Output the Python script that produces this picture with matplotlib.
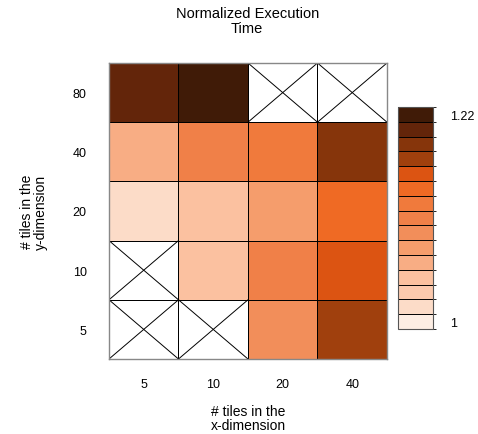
import numpy as np
import matplotlib
matplotlib.use("Agg")
import matplotlib.pyplot as plt
from matplotlib.colors import ListedColormap, BoundaryNorm

plt.rcParams['font.family'] = ['Liberation Sans', 'DejaVu Sans']

x_tiles = ['5', '10', '20', '40']
y_tiles = ['5', '10', '20', '40', '80']

# normalized execution time, rows = y tiles (5..80), cols = x tiles (5..40); nan = no data
times = np.array([
    [np.nan, np.nan, 1.095, 1.173],
    [np.nan, 1.047, 1.110, 1.157],
    [1.016,  1.047, 1.079, 1.142],
    [1.063,  1.110, 1.126, 1.189],
    [1.204,  1.220, np.nan, np.nan],
])

# discrete palette, low -> high
palette = ['#fdeee4', '#fcdcc8', '#fbc9ad', '#fbc1a0', '#f8ad84',
           '#f59d6c', '#f28e5a', '#f08048', '#f07a3c', '#ef6a24',
           '#dc5412', '#a0400d', '#86350b', '#63250a', '#401b07']
vmin, vmax = 1.0, 1.22

n = len(palette)
step = (vmax - vmin) / (n - 1)
bounds = vmin - step / 2 + step * np.arange(n + 1)
cmap = ListedColormap(palette)
cmap.set_bad('white')
norm = BoundaryNorm(bounds, n)

fig = plt.figure(figsize=(4.78, 4.35), dpi=100)
ax = fig.add_axes([0.228, 0.1724, 0.5816, 0.6805])
cax = fig.add_axes([0.8326, 0.2414, 0.0732, 0.5103])

data = np.ma.masked_invalid(times)
mesh = ax.pcolormesh(data, cmap=cmap, norm=norm, edgecolors='black', linewidth=0.65)

# cross out missing cells
for r, c in zip(*np.where(np.isnan(times))):
    ax.plot([c, c + 1], [r, r + 1], color='black', lw=0.7)
    ax.plot([c, c + 1], [r + 1, r], color='black', lw=0.7)

ax.set_xlim(0, len(x_tiles))
ax.set_ylim(0, len(y_tiles))
ax.set_xticks(np.arange(len(x_tiles)) + 0.5)
ax.set_xticklabels(x_tiles)
ax.set_yticks(np.arange(len(y_tiles)) + 0.5)
ax.set_yticklabels(y_tiles)
ax.tick_params(length=0, labelsize=9, pad=14)
ax.tick_params(axis='y', pad=16)
for s in ax.spines.values():
    s.set_color('#888888')
    s.set_linewidth(1.0)

ax.set_xlabel('# tiles in the\nx-dimension', fontsize=10, labelpad=10, linespacing=1.0)
ax.set_ylabel('# tiles in the\ny-dimension', fontsize=10, labelpad=18, linespacing=1.0)
fig.suptitle('Normalized Execution\nTime', fontsize=10.5, x=0.517, y=0.985, linespacing=1.1)

cb = fig.colorbar(mesh, cax=cax, drawedges=True)
cb.set_ticks([vmin, vmax])
cb.set_ticklabels(['1', '1.22'])
cb.ax.tick_params(length=0, labelsize=9, pad=12)
cb.outline.set_edgecolor('#555555')
cb.dividers.set_color('black')
cb.dividers.set_linewidth(0.7)

fig.savefig('out.png', dpi=100)
